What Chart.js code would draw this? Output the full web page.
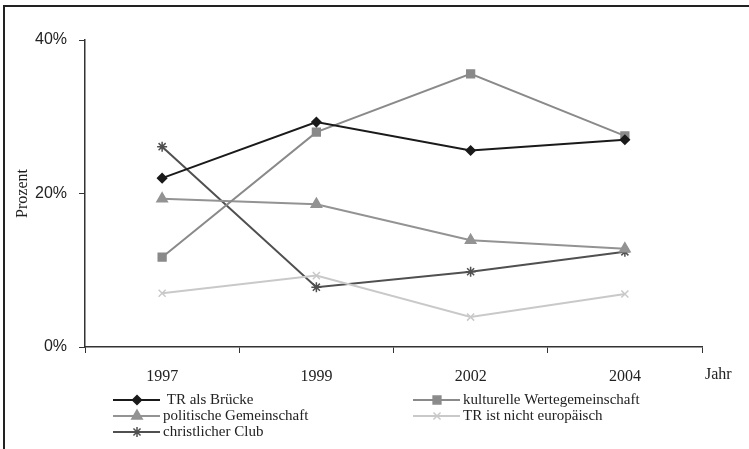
<!DOCTYPE html>
<html lang="de">
<head>
    <meta charset="UTF-8">
    <title>TR Wahrnehmung 1997-2004</title>
    <script src="https://cdn.jsdelivr.net/npm/chart.js"></script>
    <style>
        body { margin: 0; background: #fff; }
        .wrap { position: relative; width: 749px; height: 449px; }
        .frame { position: absolute; left: 3px; top: 5px; right: -10px; bottom: -10px;
                 border-top: 2px solid #222; border-left: 2px solid #222; pointer-events: none; }
    </style>
</head>
<body>
    <div class="wrap">
        <canvas id="chart" width="749" height="449"></canvas>
        <div class="frame"></div>
    </div>

    <script>
        const years = ['1997', '1999', '2002', '2004'];
        const brueckeData = [22.0, 29.3, 25.6, 27.0];
        const werteData = [11.7, 28.0, 35.6, 27.5];
        const politikData = [19.3, 18.6, 13.9, 12.8];
        const nichtEuData = [7.0, 9.3, 3.9, 6.9];
        const christData = [26.1, 7.8, 9.8, 12.4];
        const yTicks = [0, 20, 40];

        const serif = '"Liberation Serif", "DejaVu Serif", serif';
        const sans = '"Liberation Sans", Arial, sans-serif';

        // legend in two columns under the axis, drawn like the dataset lines
        const legendPlugin = {
            id: 'twoColLegend',
            afterDraw(chart) {
                const ctx = chart.ctx;
                const area = chart.chartArea;
                chart.data.datasets.forEach((ds, i) => {
                    const col = i % 2, row = Math.floor(i / 2);
                    const x0 = area.left + 28 + col * 300;
                    const y = area.bottom + 53 + row * 16;
                    ctx.save();
                    ctx.strokeStyle = ds.borderColor;
                    ctx.fillStyle = ds.pointBackgroundColor;
                    ctx.lineWidth = ds.borderWidth;
                    ctx.beginPath();
                    ctx.moveTo(x0, y);
                    ctx.lineTo(x0 + 47, y);
                    ctx.stroke();
                    ctx.lineWidth = 1.5;
                    Chart.helpers.drawPoint(ctx, {
                        pointStyle: ds.pointStyle,
                        radius: ds.pointRadius,
                        borderWidth: 1.5
                    }, x0 + 24, y);
                    ctx.fillStyle = '#222';
                    ctx.font = '15px ' + serif;
                    ctx.textBaseline = 'middle';
                    ctx.fillText(ds.label, x0 + 50, y);
                    ctx.restore();
                });
                // "Jahr" after the last category label
                ctx.save();
                ctx.fillStyle = '#222';
                ctx.font = '16px ' + serif;
                ctx.textBaseline = 'middle';
                ctx.fillText('Jahr', area.right + 3, area.bottom + 28);
                ctx.restore();
            }
        };

        function series(label, data, color, width, style, radius) {
            return {
                label: label,
                data: data,
                borderColor: color,
                backgroundColor: color,
                pointBackgroundColor: color,
                pointBorderColor: color,
                borderWidth: width,
                pointStyle: style,
                pointRadius: radius,
                pointBorderWidth: 1.5,
                tension: 0
            };
        }

        new Chart(document.getElementById('chart'), {
            type: 'line',
            data: {
                labels: years,
                datasets: [
                    series(' TR als Brücke', brueckeData, '#1a1a1a', 2, 'rectRot', 4.5),
                    series('kulturelle Wertegemeinschaft', werteData, '#8a8a8a', 2, 'rect', 5.5),
                    series('politische Gemeinschaft', politikData, '#939393', 2, 'triangle', 6),
                    series('TR ist nicht europäisch', nichtEuData, '#c9c9c9', 2, 'crossRot', 5),
                    series('christlicher Club', christData, '#505050', 2, 'star', 5)
                ]
            },
            options: {
                responsive: false,
                animation: false,
                layout: { padding: { left: 0, top: 40, right: 47, bottom: 0 } },
                plugins: {
                    legend: { display: false },
                    tooltip: { enabled: false }
                },
                scales: {
                    x: {
                        offset: true,
                        afterFit: s => { s.height = 102; },
                        grid: { offset: true, drawOnChartArea: false, tickLength: 6, color: '#333' },
                        border: { color: '#333', width: 1.5 },
                        ticks: { color: '#222', font: { family: serif, size: 16 }, padding: 14 }
                    },
                    y: {
                        min: 0,
                        max: 40,
                        afterFit: s => { s.width = 85; },
                        afterBuildTicks: s => { s.ticks = yTicks.map(v => ({ value: v })); },
                        grid: { drawOnChartArea: false, tickLength: 6, color: '#333' },
                        border: { color: '#333', width: 1.5 },
                        ticks: { color: '#222', font: { family: sans, size: 16 }, padding: 12,
                                 callback: v => v + '%' },
                        title: { display: true, text: 'Prozent', color: '#222',
                                 font: { family: serif, size: 16 }, padding: { top: 13, bottom: 0 } }
                    }
                }
            },
            plugins: [legendPlugin]
        });
    </script>
</body>
</html>
